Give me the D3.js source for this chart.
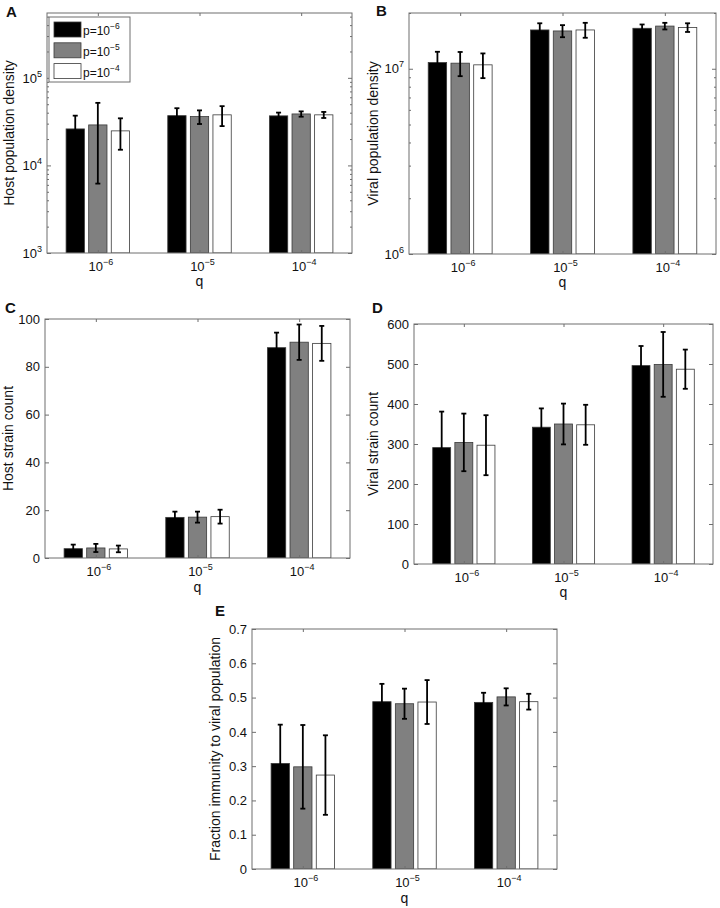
<!DOCTYPE html>
<html><head><meta charset="utf-8">
<script src="https://cdn.jsdelivr.net/npm/d3@7"></script>
<style>
body{margin:0;background:#fff}
svg{display:block}
text{font-family:"Liberation Sans",Arial,Helvetica,sans-serif;fill:#111}
</style>
</head><body>
<svg id="chart" width="720" height="908"></svg>
<script>
// ---------- DATA ----------
const qExponents = [-6, -5, -4];          // x categories: q = 10^e
const pExponents = [-6, -5, -4];          // series: p = 10^e
const seriesColors = ["#000000", "#808080", "#ffffff"];

// rows = q groups, columns = p series
const hostDensityMean = [[26100, 29000, 24800], [37000, 36100, 37800], [36800, 38700, 37800]];
const hostDensityErr  = [[10900, 22800, 9700], [8000, 6400, 9700], [3300, 2700, 3000]];

const viralDensityMean = [[1.08e7, 1.072e7, 1.05e7], [1.62e7, 1.60e7, 1.62e7], [1.654e7, 1.70e7, 1.67e7]];
const viralDensityErr  = [[1.55e6, 1.6e6, 1.6e6], [1.4e6, 1.2e6, 1.5e6], [0.8e6, 0.7e6, 0.9e6]];

const hostStrainMean = [[3.9, 4.2, 3.8], [17.0, 17.1, 17.3], [88.0, 90.3, 89.8]];
const hostStrainErr  = [[1.7, 1.7, 1.4], [2.4, 2.3, 2.9], [6.3, 7.4, 7.3]];

const viralStrainMean = [[291, 304, 297], [342, 350, 348], [496, 499, 487]];
const viralStrainErr  = [[90, 72, 75], [47, 51, 50], [49, 81, 49]];

const immunityMean = [[0.308, 0.298, 0.274], [0.488, 0.482, 0.487], [0.486, 0.502, 0.488]];
const immunityErr  = [[0.113, 0.122, 0.116], [0.052, 0.044, 0.064], [0.028, 0.025, 0.023]];

const hostDensityTicks  = [1e3, 1e4, 1e5];
const viralDensityTicks = [1e6, 1e7];
const hostStrainTicks   = [0, 20, 40, 60, 80, 100];
const viralStrainTicks  = [0, 100, 200, 300, 400, 500, 600];
const immunityTicks     = [0, 0.1, 0.2, 0.3, 0.4, 0.5, 0.6, 0.7];

// ---------- DRAW ----------
const svg = d3.select("#chart");
const AX = "#6e6e6e";
const MINUS = "\u2212";

function supText(sel, base, exp, baseSize, supSize, dy) {
  sel.text(null);
  sel.append("tspan").attr("font-size", baseSize).text(base);
  sel.append("tspan").attr("font-size", supSize).attr("dy", -dy).text(exp < 0 ? MINUS + Math.abs(exp) : String(exp));
}

function minorLogTicks(domain) {
  const out = [];
  const lo = Math.floor(Math.log10(domain[0])), hi = Math.ceil(Math.log10(domain[1]));
  for (let e = lo; e <= hi; e++) for (let k = 2; k <= 9; k++) {
    const v = k * Math.pow(10, e);
    if (v > domain[0] && v <= domain[1]) out.push(v);
  }
  return out;
}

let clipId = 0;
function drawPanel(cfg) {
  const g = svg.append("g");
  const x = d3.scaleLinear().domain([0.5, 3.5]).range([cfg.left, cfg.right]);
  const y = (cfg.log ? d3.scaleLog() : d3.scaleLinear()).domain(cfg.domain).range([cfg.bottom, cfg.top]);
  const xs = d3.scaleBand().domain(pExponents.map(String)).range([-0.3333, 0.3333]);
  const barW = 0.18;
  const id = "clip" + (clipId++);
  g.append("clipPath").attr("id", id).append("rect")
    .attr("x", cfg.left).attr("y", cfg.top).attr("width", cfg.right - cfg.left).attr("height", cfg.bottom - cfg.top);
  const plot = g.append("g").attr("clip-path", `url(#${id})`);

  const recs = [];
  cfg.mean.forEach((row, gi) => row.forEach((m, si) => {
    recs.push({gi, si, m, e: cfg.err[gi][si],
      xc: gi + 1 + xs(String(pExponents[si])) + xs.bandwidth() / 2});
  }));
  const base = cfg.domain[0];
  plot.selectAll("rect.bar").data(recs).join("rect").attr("class", "bar")
    .attr("x", d => x(d.xc - barW / 2)).attr("width", d => x(d.xc + barW / 2) - x(d.xc - barW / 2))
    .attr("y", d => y(d.m)).attr("height", d => y(base) - y(d.m))
    .attr("fill", d => seriesColors[d.si]).attr("stroke", "#3a3a3a").attr("stroke-width", 0.8);

  const lo = d => Math.max(d.m - d.e, cfg.log ? cfg.domain[0] * 0.5 : -1e9);
  const eb = plot.selectAll("g.eb").data(recs).join("g").attr("class", "eb")
    .attr("stroke", "#000").attr("stroke-width", 1.8);
  eb.append("line").attr("x1", d => x(d.xc)).attr("x2", d => x(d.xc))
    .attr("y1", d => y(lo(d))).attr("y2", d => y(d.m + d.e));
  eb.append("line").attr("x1", d => x(d.xc) - 2.5).attr("x2", d => x(d.xc) + 2.5)
    .attr("y1", d => y(d.m + d.e)).attr("y2", d => y(d.m + d.e));
  eb.append("line").attr("x1", d => x(d.xc) - 2.5).attr("x2", d => x(d.xc) + 2.5)
    .attr("y1", d => y(lo(d))).attr("y2", d => y(lo(d)));

  // box
  g.append("rect").attr("x", cfg.left).attr("y", cfg.top)
    .attr("width", cfg.right - cfg.left).attr("height", cfg.bottom - cfg.top)
    .attr("fill", "none").attr("stroke", AX).attr("stroke-width", 1);

  const styleAxis = s => { s.select(".domain").remove(); s.selectAll(".tick line").attr("stroke", AX); };

  // y axes (ticks inward on left and right)
  const yl = g.append("g").attr("transform", `translate(${cfg.left},0)`)
    .call(d3.axisLeft(y).tickValues(cfg.ticks).tickSize(-4).tickPadding(6).tickFormat(""));
  styleAxis(yl);
  const yr = g.append("g").attr("transform", `translate(${cfg.right},0)`)
    .call(d3.axisRight(y).tickValues(cfg.ticks).tickSize(-4).tickFormat(""));
  styleAxis(yr);
  if (cfg.log) {
    const mt = minorLogTicks(cfg.domain);
    styleAxis(g.append("g").attr("transform", `translate(${cfg.left},0)`)
      .call(d3.axisLeft(y).tickValues(mt).tickSize(-2).tickFormat("")));
    styleAxis(g.append("g").attr("transform", `translate(${cfg.right},0)`)
      .call(d3.axisRight(y).tickValues(mt).tickSize(-2).tickFormat("")));
  }
  // y tick labels
  const yt = g.selectAll("text.yt").data(cfg.ticks).join("text").attr("class", "yt")
    .attr("x", cfg.left - 5).attr("y", d => y(d)).attr("dy", "0.36em")
    .attr("text-anchor", "end").attr("font-size", 13);
  if (cfg.log) yt.each(function (d) { supText(d3.select(this), "10", Math.round(Math.log10(d)), 13, 9, 6); });
  else yt.text(d => cfg.fmt(d));

  // x axes (bottom + top, inward)
  const xb = g.append("g").attr("transform", `translate(0,${cfg.bottom})`)
    .call(d3.axisBottom(x).tickValues([1, 2, 3]).tickSize(-3).tickFormat(""));
  styleAxis(xb);
  const xt = g.append("g").attr("transform", `translate(0,${cfg.top})`)
    .call(d3.axisTop(x).tickValues([1, 2, 3]).tickSize(-3).tickFormat(""));
  styleAxis(xt);
  g.selectAll("text.xt").data(qExponents).join("text").attr("class", "xt")
    .attr("x", (d, i) => x(i + 1) + 3).attr("y", cfg.bottom + 17.5).attr("text-anchor", "middle")
    .each(function (d) { supText(d3.select(this), "10", d, 13, 9, 6); });
  g.append("text").attr("x", (cfg.left + cfg.right) / 2).attr("y", cfg.bottom + cfg.qdy)
    .attr("text-anchor", "middle").attr("font-size", 14).text("q");

  // y label
  g.append("text").attr("transform", `translate(${cfg.ylx},${(cfg.top + cfg.bottom) / 2}) rotate(-90)`)
    .attr("text-anchor", "middle").attr("font-size", 14).text(cfg.ylabel);
  // panel letter
  g.append("text").attr("x", cfg.lx).attr("y", cfg.ly).attr("font-size", 15)
    .attr("font-weight", "bold").text(cfg.letter);
  return {x, y};
}

drawPanel({letter: "A", lx: 6, ly: 17, left: 47, right: 352, top: 13, bottom: 253, log: true,
  domain: [1e3, 5.5e5], ticks: hostDensityTicks, mean: hostDensityMean, err: hostDensityErr,
  ylabel: "Host population density", ylx: 14, qdy: 33});
drawPanel({letter: "B", lx: 376, ly: 16, left: 409, right: 716, top: 13, bottom: 254, log: true,
  domain: [1e6, 2e7], ticks: viralDensityTicks, mean: viralDensityMean, err: viralDensityErr,
  ylabel: "Viral population density", ylx: 378, qdy: 33});
drawPanel({letter: "C", lx: 5, ly: 313, left: 45, right: 350, top: 319, bottom: 558, log: false,
  domain: [0, 100], ticks: hostStrainTicks, mean: hostStrainMean, err: hostStrainErr, fmt: d3.format("d"),
  ylabel: "Host strain count", ylx: 13, qdy: 34});
drawPanel({letter: "D", lx: 372, ly: 313, left: 414, right: 713, top: 324, bottom: 564, log: false,
  domain: [0, 600], ticks: viralStrainTicks, mean: viralStrainMean, err: viralStrainErr, fmt: d3.format("d"),
  ylabel: "Viral strain count", ylx: 378, qdy: 33});
drawPanel({letter: "E", lx: 215, ly: 616, left: 252, right: 557, top: 629, bottom: 869, log: false,
  domain: [0, 0.7], ticks: immunityTicks, mean: immunityMean, err: immunityErr, fmt: d => d === 0 ? "0" : d3.format(".1f")(d),
  ylabel: "Fraction immunity to viral population", ylx: 220, qdy: 34});

// legend (panel A)
const lg = svg.append("g");
lg.append("rect").attr("x", 49).attr("y", 17).attr("width", 81).attr("height", 65)
  .attr("fill", "#fff").attr("stroke", AX).attr("stroke-width", 1);
const items = lg.selectAll("g.li").data(pExponents).join("g").attr("class", "li")
  .attr("transform", (d, i) => `translate(54,${22 + i * 20.8})`);
items.append("rect").attr("width", 27).attr("height", 15)
  .attr("fill", (d, i) => seriesColors[i]).attr("stroke", "#3a3a3a").attr("stroke-width", 0.8);
items.append("text").attr("x", 29).attr("y", 13).attr("font-size", 12)
  .each(function (d) { supText(d3.select(this), "p=10", d, 12, 8.5, 6); });
</script>
</body></html>
